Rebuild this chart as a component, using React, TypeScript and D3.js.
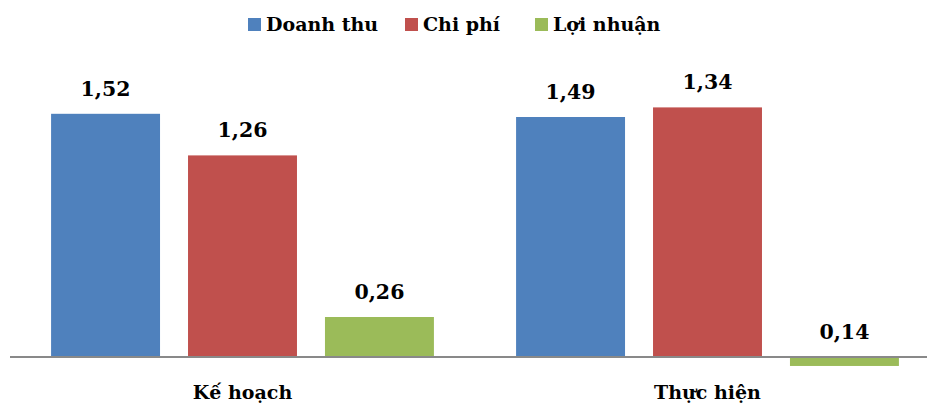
import React from "react";
import * as d3 from "d3";

const categories = ["Kế hoạch", "Thực hiện"];
const series = ["Doanh thu", "Chi phí", "Lợi nhuận"];
const colors = ["#4F81BD", "#C0504D", "#9BBB59"];
// bar heights as drawn in the picture
const planValues = [1.52, 1.26, 0.25];
const actualValues = [1.5, 1.56, -0.056];
// data labels as printed in the picture
const planLabels = ["1,52", "1,26", "0,26"];
const actualLabels = ["1,49", "1,34", "0,14"];

const W = 927;
const H = 406;
const FONT = "'DejaVu Serif', serif";

export default function App() {
  const values = [planValues, actualValues];
  const labels = [planLabels, actualLabels];

  const x0 = d3.scaleBand<string>().domain(categories).range([10, 940]);
  const x1 = d3
    .scaleBand<string>()
    .domain(series)
    .range([0, x0.bandwidth()])
    .paddingInner(0.2044)
    .paddingOuter(0.3);
  const y = d3.scaleLinear().domain([0, 1.6]).range([357, 101]);

  const legendX = [248, 405, 535];
  const textStyle: React.CSSProperties = { fontFamily: FONT, fontWeight: "bold" };

  return (
    <svg
      width={W}
      height={H}
      style={{ position: "absolute", left: 0, top: 0, background: "#fff" }}
    >
      {/* legend */}
      {series.map((s, i) => (
        <g key={s} transform={`translate(${legendX[i]},0)`}>
          <rect x={0} y={18} width={13} height={13} fill={colors[i]} />
          <text x={18} y={31} fontSize={19} fill="#000" style={textStyle}>
            {s}
          </text>
        </g>
      ))}

      {/* bars */}
      {categories.map((c, ci) => (
        <g key={c} transform={`translate(${x0(c)},0)`}>
          {series.map((s, si) => {
            const v = values[ci][si];
            const top = y(Math.max(v, 0));
            const bottom = y(Math.min(v, 0));
            return (
              <g key={s}>
                <rect
                  x={x1(s)}
                  y={top}
                  width={x1.bandwidth()}
                  height={bottom - top}
                  fill={colors[si]}
                />
                <text
                  x={(x1(s) as number) + x1.bandwidth() / 2}
                  y={y(Math.max(v, 0)) - 18}
                  textAnchor="middle"
                  fontSize={20.5}
                  fill="#000"
                  style={textStyle}
                >
                  {labels[ci][si]}
                </text>
              </g>
            );
          })}
        </g>
      ))}

      {/* axis line */}
      <line x1={10} x2={W} y1={y(0)} y2={y(0)} stroke="#898989" strokeWidth={2} />

      {/* category labels */}
      {categories.map((c) => (
        <text
          key={c}
          x={(x0(c) as number) + x0.bandwidth() / 2}
          y={399}
          textAnchor="middle"
          fontSize={19}
          fill="#000"
          style={textStyle}
        >
          {c}
        </text>
      ))}
    </svg>
  );
}
